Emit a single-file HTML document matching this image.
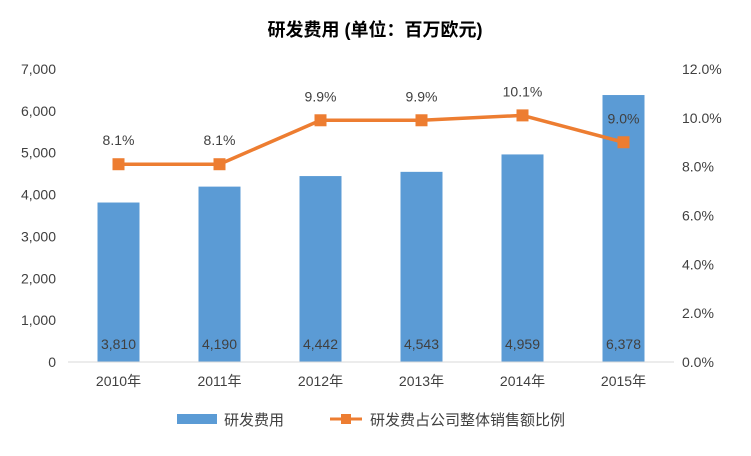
<!DOCTYPE html>
<html><head><meta charset="utf-8"><style>
body{margin:0;background:#fff;}
svg text{font-family:"Liberation Sans","Noto Sans CJK SC",sans-serif;fill:#404040;}
</style></head><body>
<svg id="chart" width="751" height="451" xmlns="http://www.w3.org/2000/svg">
<rect width="751" height="451" fill="#fff"/>
<text x="375" y="36" text-anchor="middle" font-size="18" font-weight="bold" style="fill:#000">研发费用 (单位：百万欧元)</text>
<g id="grid"></g><g id="bars"></g><g id="line"></g><g id="axes"></g>
<g>
<rect x="177" y="414" width="40" height="10" fill="#5b9bd5"/>
<text x="224" y="425" font-size="15">研发费用</text>
<line x="330" y="0" x1="330" y1="419" x2="362" y2="419" stroke="#ed7d31" stroke-width="3"/>
<rect x="341" y="414" width="10" height="10" fill="#ed7d31"/>
<text x="370" y="425" font-size="15">研发费占公司整体销售额比例</text>
</g>
</svg>
<script>
const categories=["2010年","2011年","2012年","2013年","2014年","2015年"];
const expense=[3810,4190,4442,4543,4959,6378];
const ratio=[8.1,8.1,9.9,9.9,10.1,9.0];
const leftTicks=[0,1000,2000,3000,4000,5000,6000,7000];
const rightTicks=[0,2,4,6,8,10,12];
const NS="http://www.w3.org/2000/svg";
const x0=68,pw=606,y0=362,yTop=69;
const xC=i=>x0+pw/categories.length*(i+0.5);
const yL=v=>y0-(v/7000)*(y0-yTop);
const yR=v=>y0-(v/12)*(y0-yTop);
function mk(tag,attrs,parent,text){const e=document.createElementNS(NS,tag);for(const k in attrs)e.setAttribute(k,attrs[k]);if(text!==undefined)e.textContent=text;parent.appendChild(e);return e;}
const axes=document.getElementById('axes'),bars=document.getElementById('bars'),line=document.getElementById('line');
mk('line',{x1:x0,y1:y0,x2:x0+pw,y2:y0,stroke:'#d9d9d9'},axes);
leftTicks.forEach(v=>{const t=mk('text',{x:56,y:yL(v)+5,'text-anchor':'end','font-size':14},axes,v.toLocaleString('en-US'));

});
rightTicks.forEach(v=>{const t=mk('text',{x:682,y:yR(v)+5,'font-size':14},axes,v.toFixed(1)+'%');

});
categories.forEach((c,i)=>{const t=mk('text',{x:xC(i),y:386,'text-anchor':'middle','font-size':14},axes,c);

});
expense.forEach((v,i)=>{const r=mk('rect',{x:xC(i)-21,y:yL(v),width:42,height:y0-yL(v),fill:'#5b9bd5'},bars);


const t=mk('text',{x:xC(i),y:349,'text-anchor':'middle','font-size':14},bars,v.toLocaleString('en-US'));

});
const pts=ratio.map((v,i)=>xC(i)+','+yR(v)).join(' ');
const pl=mk('polyline',{points:pts,fill:'none',stroke:'#ed7d31','stroke-width':3.5},line);


ratio.forEach((v,i)=>{const m=mk('rect',{x:xC(i)-6,y:yR(v)-6,width:12,height:12,fill:'#ed7d31'},line);


const t=mk('text',{x:xC(i),y:yR(v)-19,'text-anchor':'middle','font-size':14},line,v.toFixed(1)+'%');

});
</script>
</body></html>
